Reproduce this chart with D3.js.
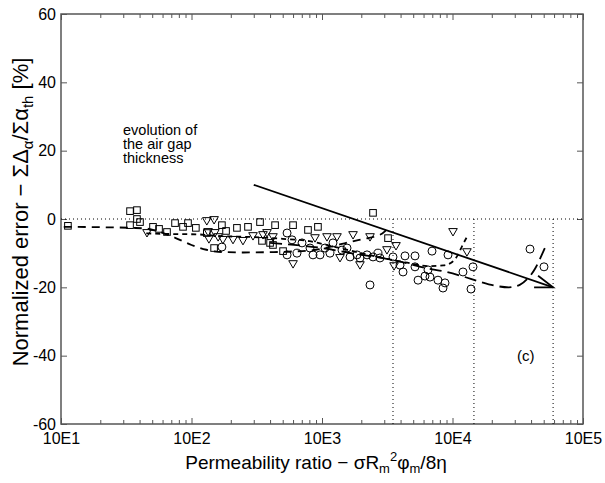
<!DOCTYPE html>
<html>
<head>
<meta charset="utf-8">
<script src="https://cdn.jsdelivr.net/npm/d3@7"></script>
<style>
  body { margin: 0; background: #fff; }
  text { font-family: "Liberation Sans", Arial, Helvetica, sans-serif; fill: #000; }
</style>
</head>
<body>
<svg id="chart" width="605" height="483"></svg>
<script>
// Measured points: permeability ratio vs normalized error (%)
const squareX = [11.3, 33.8, 38.2, 38.2, 33.8, 40.3, 50.7, 56.4, 64.9, 74.8, 86.1, 94, 108, 131, 149, 171, 184, 223, 271, 335, 347, 400, 421, 437, 503, 600, 781, 931, 2460, 3206];
const squareY = [-2.0, 2.3, 2.6, 0.0, -1.8, -0.9, -2.3, -2.9, -3.8, -1.2, -2.3, -1.2, -2.6, -4.1, -8.5, -1.8, -3.5, -2.6, -2.3, -0.9, -6.4, -7.0, -7.6, -1.8, -9.4, -1.8, -3.2, -2.3, 1.8, -5.6];

const triangleX = [45.6, 131, 149, 134, 151, 136, 160, 174, 208, 248, 296, 353, 379, 421, 600, 884, 1092, 1303, 1374, 1729, 1954, 2333, 3146, 3565, 3690, 10090, 12900];
const triangleY = [-4.1, -0.6, -0.3, -3.8, -4.1, -5.9, -5.3, -6.1, -6.1, -6.4, -5.0, -4.7, -4.1, -5.3, -13.2, -5.6, -5.3, -5.3, -11.4, -4.7, -13.5, -5.3, -9.1, -13.8, -7.9, -3.8, -9.7];

const circleX = [171, 540, 589, 643, 540, 703, 809, 853, 966, 1054, 1151, 1214, 1423, 1555, 1640, 1854, 1954, 2213, 2460, 2685, 2333, 2780, 3500, 3962, 4178, 4325, 5161, 5161, 5445, 6155, 6490, 6723, 6966, 7740, 8455, 8760, 9240, 12030, 13860, 14360, 39260, 50250];
const circleY = [-8.2, -4.1, -6.1, -10.0, -10.5, -7.0, -8.5, -10.5, -10.5, -8.5, -10.0, -7.0, -9.1, -8.5, -11.1, -10.5, -11.4, -10.5, -11.1, -10.0, -19.3, -11.4, -11.1, -13.5, -15.5, -10.8, -10.8, -14.0, -17.9, -16.7, -14.9, -17.0, -9.4, -17.9, -20.2, -18.7, -10.5, -15.5, -20.5, -14.0, -8.8, -14.0];

// Fitted trends for each air-gap thickness
const fitSquareX = [10.5, 20, 35, 45, 55, 75, 100, 130, 160, 250, 400, 600, 900, 1200, 1600, 2100, 2600, 3000, 3250];
const fitSquareY = [-2.3, -2.4, -2.6, -2.8, -3.6, -5.5, -7.6, -9.0, -9.6, -9.8, -9.7, -9.5, -9.0, -8.0, -6.8, -5.8, -5.0, -3.8, -2.0];

const fitTriangleX = [45, 70, 110, 170, 300, 500, 800, 1200, 2000, 3000, 4500, 6500, 8500, 10000, 11000, 12000, 12800];
const fitTriangleY = [-4.2, -4.4, -4.5, -5.0, -5.3, -5.8, -6.5, -8.0, -10.0, -11.5, -12.8, -13.8, -13.6, -12.5, -10.5, -7.5, -5.5];

const fitCircleX = [400, 1000, 2000, 3000, 4500, 6500, 9000, 12000, 16000, 21000, 27000, 33000, 38000, 43000, 47000, 51000];
const fitCircleY = [-7.0, -8.5, -10.5, -11.5, -13.0, -14.5, -15.5, -16.8, -18.3, -19.5, -20.0, -19.2, -17.3, -14.5, -11.5, -8.5];

// Upper permeability limit reached by each series
const limitX = [3500, 14600, 59000];

// Trend arrow (start, end)
const arrowX = [300, 59000];
const arrowY = [10, -20];

const xTicks = [10, 100, 1000, 10000, 100000];
const yTicks = [-60, -40, -20, 0, 20, 40, 60];

const svg = d3.select("#chart");
const x = d3.scaleLog().domain([10, 1e5]).range([61, 583]);
const y = d3.scaleLinear().domain([-60, 60]).range([424, 14]);

const axisColor = "#555";
const minorTicks = [];
for (let e = 1; e < 5; e++) for (let m = 2; m <= 9; m++) minorTicks.push(m * Math.pow(10, e));

function styleAxis(g) {
  g.select(".domain").remove();
  g.selectAll(".tick line").attr("stroke", axisColor).attr("stroke-width", 1);
  g.selectAll(".tick text").style("font-size", "16px");
}

// bottom axis with labels
svg.append("g").attr("transform", `translate(0,${y(-60)})`)
  .call(d3.axisBottom(x).tickValues(xTicks).tickSize(-6).tickPadding(9)
    .tickFormat(d => "10E" + Math.round(Math.log10(d))))
  .call(styleAxis);
svg.append("g").attr("transform", `translate(0,${y(-60)})`)
  .call(d3.axisBottom(x).tickValues(minorTicks).tickSize(-4).tickFormat(""))
  .call(styleAxis);
// top axis
svg.append("g").attr("transform", `translate(0,${y(60)})`)
  .call(d3.axisTop(x).tickValues(xTicks).tickSize(-6).tickFormat(""))
  .call(styleAxis);
svg.append("g").attr("transform", `translate(0,${y(60)})`)
  .call(d3.axisTop(x).tickValues(minorTicks).tickSize(-4).tickFormat(""))
  .call(styleAxis);
// left and right axes
svg.append("g").attr("transform", `translate(${x(10)},0)`)
  .call(d3.axisLeft(y).tickValues(yTicks).tickSize(-6).tickPadding(5).tickFormat(d => String(d)))
  .call(styleAxis);
svg.append("g").attr("transform", `translate(${x(1e5)},0)`)
  .call(d3.axisRight(y).tickValues(yTicks).tickSize(-6).tickFormat(""))
  .call(styleAxis);

// frame
svg.append("rect")
  .attr("x", x(10)).attr("y", y(60))
  .attr("width", x(1e5) - x(10)).attr("height", y(-60) - y(60))
  .attr("fill", "none").attr("stroke", axisColor).attr("stroke-width", 1.5);

// zero reference and limit lines
svg.append("line")
  .attr("x1", x(10)).attr("x2", x(1e5)).attr("y1", y(0)).attr("y2", y(0))
  .attr("stroke", "#000").attr("stroke-width", 1).attr("stroke-dasharray", "1,3");
svg.selectAll(".limit").data(limitX).join("line")
  .attr("x1", d => x(d)).attr("x2", d => x(d))
  .attr("y1", y(0)).attr("y2", y(-60))
  .attr("stroke", "#000").attr("stroke-width", 1).attr("stroke-dasharray", "1,3");

// fitted curves
const line = d3.line().x(d => x(d[0])).y(d => y(d[1])).curve(d3.curveMonotoneX);
const fits = [
  { xs: fitSquareX, ys: fitSquareY, dash: "8,6" },
  { xs: fitTriangleX, ys: fitTriangleY, dash: "5,4" },
  { xs: fitCircleX, ys: fitCircleY, dash: "12,6" }
];
fits.forEach(f => {
  svg.append("path")
    .datum(f.xs.map((v, i) => [v, f.ys[i]]))
    .attr("d", line)
    .attr("fill", "none").attr("stroke", "#000")
    .attr("stroke-width", 1.8).attr("stroke-dasharray", f.dash);
});

// markers
const pts = (xs, ys) => xs.map((v, i) => [v, ys[i]]);
svg.append("g").selectAll("rect").data(pts(squareX, squareY)).join("rect")
  .attr("x", d => x(d[0]) - 3.3).attr("y", d => y(d[1]) - 3.3)
  .attr("width", 6.6).attr("height", 6.6)
  .attr("fill", "none").attr("stroke", "#000").attr("stroke-width", 1);
svg.append("g").selectAll("path").data(pts(triangleX, triangleY)).join("path")
  .attr("transform", d => `translate(${x(d[0])},${y(d[1])})`)
  .attr("d", "M-4.3,-3.4L4.3,-3.4L0,4Z")
  .attr("fill", "none").attr("stroke", "#000").attr("stroke-width", 1);
svg.append("g").selectAll("circle").data(pts(circleX, circleY)).join("circle")
  .attr("cx", d => x(d[0])).attr("cy", d => y(d[1])).attr("r", 4)
  .attr("fill", "none").attr("stroke", "#000").attr("stroke-width", 1);

// trend arrow
const ax0 = x(arrowX[0]), ay0 = y(arrowY[0]), ax1 = x(arrowX[1]), ay1 = y(arrowY[1]);
svg.append("line").attr("x1", ax0).attr("y1", ay0).attr("x2", ax1).attr("y2", ay1)
  .attr("stroke", "#000").attr("stroke-width", 1.8);
const ang = Math.atan2(ay0 - ay1, ax0 - ax1);
const hl = 19, spread = 0.33;
const b1 = [ax1 + hl * Math.cos(ang - spread), ay1 + hl * Math.sin(ang - spread)];
const b2 = [ax1 + hl * Math.cos(ang + spread), ay1 + hl * Math.sin(ang + spread)];
svg.append("path")
  .attr("d", `M${b1[0]},${b1[1]}L${ax1},${ay1}L${b2[0]},${b2[1]}`)
  .attr("fill", "none").attr("stroke", "#000").attr("stroke-width", 1.8);

// annotations
const note = svg.append("text").style("font-size", "14.5px");
["evolution of", "the air gap", "thickness"].forEach((t, i) => {
  note.append("tspan").attr("x", 123).attr("y", 135 + i * 14).text(t);
});
svg.append("text").attr("x", 517).attr("y", 361).style("font-size", "15px").text("(c)");

// axis titles
const xt = svg.append("text")
  .attr("x", 316).attr("y", 469)
  .attr("text-anchor", "middle").style("font-size", "19px");
xt.append("tspan").text("Permeability ratio \u2212 \u03c3R");
xt.append("tspan").attr("baseline-shift", "-30%").style("font-size", "13px").text("m");
xt.append("tspan").attr("baseline-shift", "60%").style("font-size", "13px").text("2");
xt.append("tspan").text("\u03c6");
xt.append("tspan").attr("baseline-shift", "-30%").style("font-size", "13px").text("m");
xt.append("tspan").text("/8\u03b7");

const yt = svg.append("text")
  .attr("transform", "translate(28,212) rotate(-90)")
  .attr("text-anchor", "middle").style("font-size", "22px");
yt.append("tspan").text("Normalized error \u2212 \u03a3\u0394");
yt.append("tspan").attr("baseline-shift", "-30%").style("font-size", "15px").text("\u03b1");
yt.append("tspan").text("/\u03a3\u03b1");
yt.append("tspan").attr("baseline-shift", "-30%").style("font-size", "15px").text("th");
yt.append("tspan").text(" [%]");
</script>
</body>
</html>
